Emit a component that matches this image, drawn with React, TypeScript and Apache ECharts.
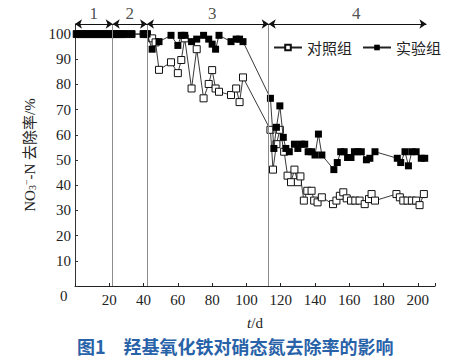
import React, { useEffect, useRef } from 'react';
import * as echarts from 'echarts';

// ---- data ----
const xTickMax = 210;
const yTickMax = 104;

const phaseBounds = [0, 22, 42, 113, 205];
const phaseNames = ['1', '2', '3', '4'];
const phaseLabelDays = [11, 32, 80, 164];
const phaseDividers = [22, 42, 113];

const controlDays = [
  1, 3, 5, 7, 9, 11, 13, 15, 17, 19, 21, 23, 25, 27, 29, 33, 40, 42,
  45, 47, 49, 56, 60, 62, 64, 68, 71, 75, 78, 80, 82, 84, 91, 94, 96, 98,
  114, 115.5, 117.5, 119.5, 122, 124, 126, 128, 130, 131.5,
  133.5, 135.5, 138, 139.5, 141.5, 144,
  150.5, 152.5, 154.5, 156.5, 158.5,
  161, 163.5, 166, 169, 171.5, 173, 175,
  187.5, 189.5, 191.5, 194, 196.5, 199, 201, 203.5,
];
const controlValues = [
  100, 100, 100, 100, 100, 100, 100, 100, 100, 100, 100, 100, 100, 100, 100, 100, 100, 100,
  98.3, 96.7, 85.8, 88.8, 84.5, 89.7, 98.3, 78.4, 94, 74.5, 80.2, 85.7, 78.4, 77.1, 75.8, 78.4, 73, 82.8,
  62, 46.2, 56.3, 62, 53.3, 43.8, 41.2, 46.2, 41.2, 43.5,
  33.9, 37.8, 37.8, 33.9, 33.2, 35.2,
  32.5, 33.9, 35.8, 37.2, 34.8,
  33.9, 33.9, 33.9, 32.5, 34.5, 36.5, 33.9,
  36.5, 35.2, 33.9, 33.9, 33.9, 33.9, 32.1, 36.5,
];

const expDays = [
  1, 3, 5, 7, 9, 11, 13, 15, 17, 19, 21, 23, 25, 27, 29, 33, 40, 42,
  45, 49, 56, 60, 62, 64, 68, 71, 75, 78, 80, 82, 84, 91, 94, 96, 98,
  114, 116, 117.5, 119.5, 121.5, 123, 125, 128, 130, 132, 134, 136, 138, 140, 142, 144,
  151, 153, 155, 157, 159, 161, 163, 165, 167, 170, 172, 175,
  188, 190, 192.5, 194.5, 196.5, 199, 202, 204,
];
const expValues = [
  100, 100, 100, 100, 100, 100, 100, 100, 100, 100, 100, 100, 100, 100, 100, 100, 100, 100,
  94, 97, 99.5, 95.5, 99.5, 99.5, 97, 98, 99.5, 98, 96, 94, 99.5, 97, 98, 98, 97,
  74.5, 54.6, 63, 71.5, 59, 54.6, 53.3, 56.3, 54.6, 56.3, 56.3, 53.3, 53.3, 52, 60.3, 52,
  46.2, 49, 53.3, 53.3, 51, 51, 53.3, 53.3, 53.3, 50.1, 50.7, 53.3,
  50.7, 49, 53.3, 47.7, 53.3, 53.3, 50.7, 50.7,
];

const seriesNames = ['对照组', '实验组'];
const yAxisName = '{a|NO}{sub|3}{sup|−}{a|-N 去除率/%}';
const caption = '图1　羟基氧化铁对硝态氮去除率的影响';

const SERIF = '"Liberation Serif", "Times New Roman", serif';
const CJK = '"Noto Sans CJK SC", sans-serif';

export default function App() {
  const ref = useRef<HTMLDivElement>(null);

  useEffect(() => {
    if (!ref.current) return;
    const chart = echarts.init(ref.current, undefined, { renderer: 'svg' });

    const controlData = controlDays.map((d, i) => [d, controlValues[i]]);
    const expData = expDays.map((d, i) => [d, expValues[i]]);
    const arrowY = yTickMax;
    const labelY = yTickMax + 4;

    const arrowLines = phaseNames.map((_, i) => [
      { coord: [phaseBounds[i], arrowY] },
      { coord: [phaseBounds[i + 1], arrowY] },
    ]);

    chart.setOption({
      animation: false,
      backgroundColor: '#fff',
      grid: { left: 75, right: 34, top: 24, bottom: 76 },
      title: {
        text: caption,
        left: 72,
        top: 333,
        padding: [3, 5, 3, 5],
        textStyle: { fontSize: 18, lineHeight: 20, fontWeight: 'bold', color: '#2862a8', fontFamily: CJK },
      },
      legend: {
        data: seriesNames,
        left: 268,
        top: 35,
        itemWidth: 28,
        itemHeight: 7,
        itemGap: 10,
        textStyle: { fontSize: 15, color: '#222', fontFamily: CJK },
      },
      graphic: [
        {
          type: 'text',
          left: 60,
          top: 288,
          style: { text: '0', font: '15px ' + SERIF, fill: '#222' },
        },
      ],
      xAxis: {
        type: 'value',
        min: 0,
        max: xTickMax,
        interval: 20,
        splitLine: { show: false },
        axisLine: { lineStyle: { color: '#222', width: 1 } },
        axisTick: { inside: true, length: 3, lineStyle: { color: '#222' } },
        axisLabel: {
          fontSize: 15,
          fontFamily: SERIF,
          color: '#222',
          margin: 6,
          formatter: (v: number) => (v === 0 || v > 200 ? '' : String(v)),
        },
        name: '{i|t}{n|/d}',
        nameLocation: 'middle',
        nameGap: 29,
        nameTextStyle: {
          rich: {
            i: { fontSize: 15, fontFamily: SERIF, fontStyle: 'italic', color: '#222' },
            n: { fontSize: 15, fontFamily: SERIF, color: '#222' },
          },
        },
      },
      yAxis: {
        type: 'value',
        min: 0,
        max: yTickMax,
        interval: 10,
        splitLine: { show: false },
        axisLine: { lineStyle: { color: '#333', width: 1 } },
        axisTick: { inside: true, length: 3, lineStyle: { color: '#333' } },
        axisLabel: {
          fontSize: 15,
          fontFamily: SERIF,
          color: '#222',
          margin: 4,
          formatter: (v: number) => (v === 0 || v > 100 ? '' : String(v)),
        },
        name: yAxisName,
        nameLocation: 'middle',
        nameRotate: 90,
        nameGap: 36,
        nameTextStyle: {
          rich: {
            a: { fontSize: 15, fontFamily: SERIF + ', ' + CJK, color: '#222' },
            sub: { fontSize: 10, fontFamily: SERIF, color: '#222', verticalAlign: 'bottom', padding: [6, 0, 0, 0] },
            sup: { fontSize: 10, fontFamily: SERIF, color: '#222', verticalAlign: 'top', padding: [0, 0, 6, 0] },
          },
        },
      },
      series: [
        {
          name: seriesNames[0],
          type: 'line',
          data: controlData,
          symbol: 'rect',
          symbolSize: 7,
          itemStyle: { color: '#fff', borderColor: '#111', borderWidth: 1 },
          lineStyle: { color: '#222', width: 0.9 },
          z: 3,
          markLine: {
            silent: true,
            symbol: 'none',
            label: { show: false },
            lineStyle: { color: '#8c8c8c', width: 1, type: 'solid' },
            data: phaseDividers.map((d) => ({ xAxis: d })),
          },
        },
        {
          name: seriesNames[1],
          type: 'line',
          data: expData,
          symbol: 'rect',
          symbolSize: 7,
          itemStyle: { color: '#000' },
          lineStyle: { color: '#222', width: 0.9 },
          z: 4,
        },
        {
          name: 'phases',
          type: 'scatter',
          clip: false,
          silent: true,
          symbolSize: 0,
          data: phaseLabelDays.map((d, i) => ({ value: [d, labelY], name: phaseNames[i] })),
          label: {
            show: true,
            position: 'inside',
            formatter: (p: any) => p.name,
            fontSize: 17,
            fontFamily: SERIF,
            color: '#222',
          },
          markLine: {
            silent: true,
            symbol: ['arrow', 'arrow'],
            symbolSize: 7,
            label: { show: false },
            lineStyle: { color: '#111', width: 1, type: 'solid' },
            data: arrowLines,
          },
        },
      ],
    });

    return () => chart.dispose();
  }, []);

  return (
    <div
      ref={ref}
      style={{ position: 'absolute', left: 0, top: 0, width: 469, height: 362, background: '#fff' }}
    />
  );
}
